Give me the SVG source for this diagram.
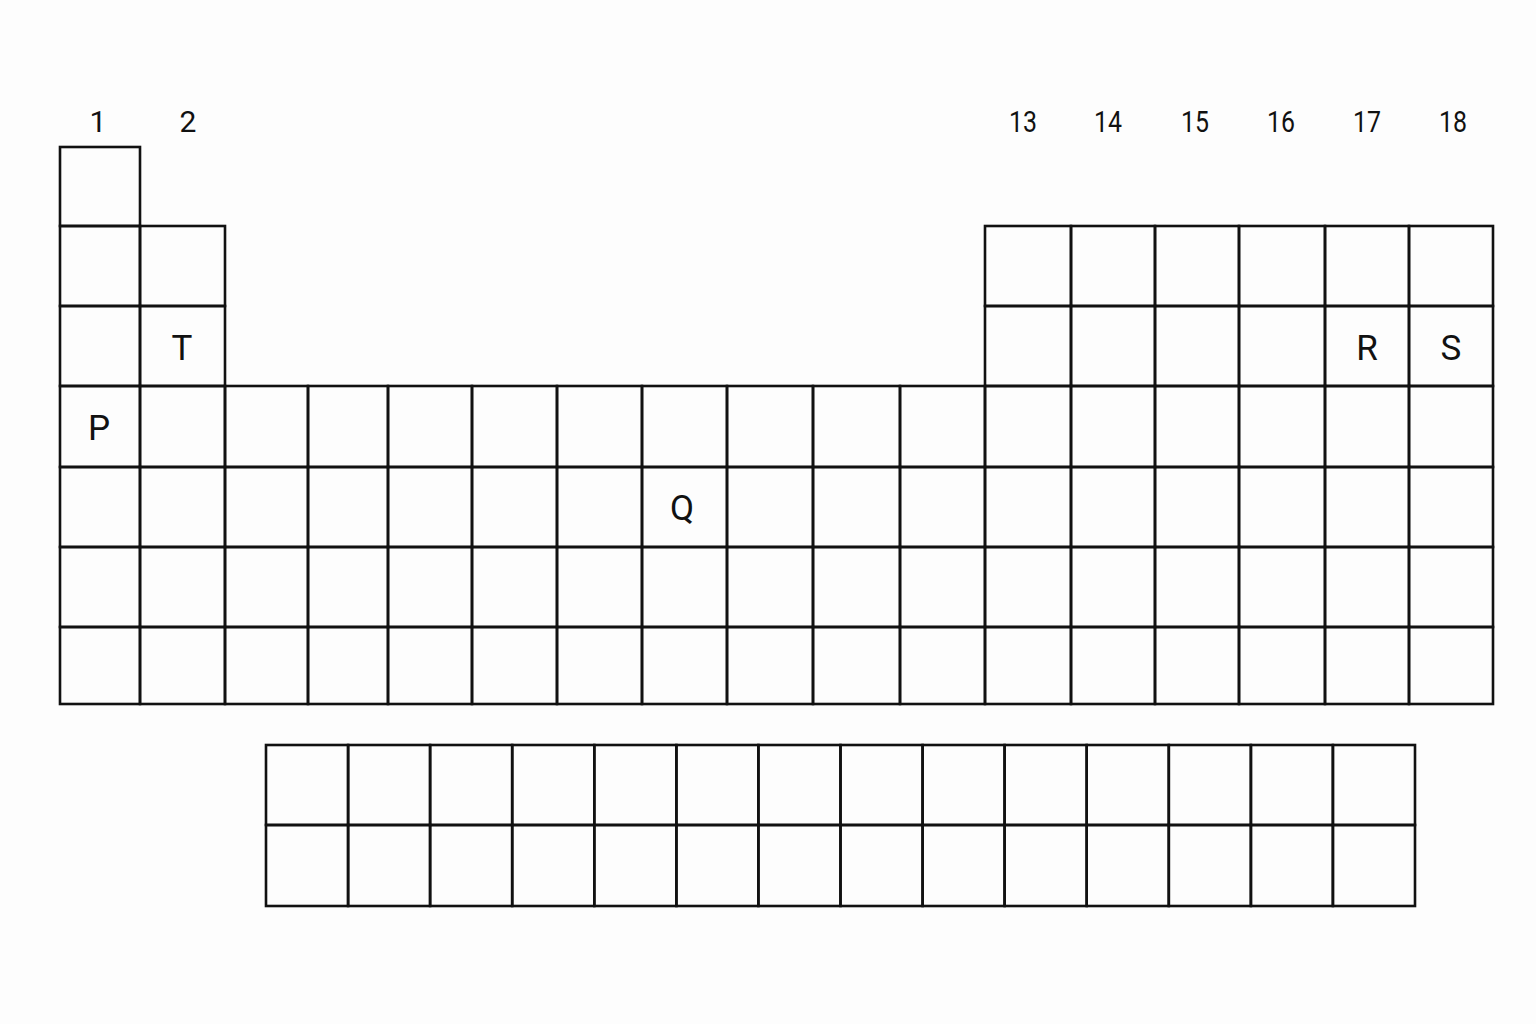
<svg xmlns="http://www.w3.org/2000/svg" width="1536" height="1024" viewBox="0 0 1536 1024">
<style>
.c{fill:none;stroke:#111;stroke-width:2.6}
.g{font-family:Roboto,"Noto Sans",sans-serif;font-size:30px;fill:#111;text-anchor:middle}
.e{font-family:Roboto,"Noto Sans",sans-serif;font-size:35px;fill:#111;text-anchor:middle}
</style>
<rect width="1536" height="1024" fill="#fdfdfd"/>
<g id="group-labels">
<text class="g" x="98" y="132">1</text>
<text class="g" x="188" y="132">2</text>
<text class="g" x="1023" y="132" textLength="28" lengthAdjust="spacingAndGlyphs">13</text>
<text class="g" x="1108" y="132" textLength="28" lengthAdjust="spacingAndGlyphs">14</text>
<text class="g" x="1195" y="132" textLength="28" lengthAdjust="spacingAndGlyphs">15</text>
<text class="g" x="1281" y="132" textLength="28" lengthAdjust="spacingAndGlyphs">16</text>
<text class="g" x="1367" y="132" textLength="28" lengthAdjust="spacingAndGlyphs">17</text>
<text class="g" x="1453" y="132" textLength="28" lengthAdjust="spacingAndGlyphs">18</text>
</g>
<g id="main-table">
<g id="period-1">
<rect class="c" x="60" y="147" width="80" height="79"/>
</g>
<g id="period-2">
<rect class="c" x="60" y="226" width="80" height="80"/>
<rect class="c" x="140" y="226" width="85" height="80"/>
<rect class="c" x="985" y="226" width="86" height="80"/>
<rect class="c" x="1071" y="226" width="84" height="80"/>
<rect class="c" x="1155" y="226" width="84" height="80"/>
<rect class="c" x="1239" y="226" width="86" height="80"/>
<rect class="c" x="1325" y="226" width="84" height="80"/>
<rect class="c" x="1409" y="226" width="84" height="80"/>
</g>
<g id="period-3">
<rect class="c" x="60" y="306" width="80" height="80"/>
<g id="cell-T"><rect class="c" x="140" y="306" width="85" height="80"/><text class="e" x="182" y="360">T</text></g>
<rect class="c" x="985" y="306" width="86" height="80"/>
<rect class="c" x="1071" y="306" width="84" height="80"/>
<rect class="c" x="1155" y="306" width="84" height="80"/>
<rect class="c" x="1239" y="306" width="86" height="80"/>
<g id="cell-R"><rect class="c" x="1325" y="306" width="84" height="80"/><text class="e" x="1367" y="360">R</text></g>
<g id="cell-S"><rect class="c" x="1409" y="306" width="84" height="80"/><text class="e" x="1451" y="360">S</text></g>
</g>
<g id="period-4">
<g id="cell-P"><rect class="c" x="60" y="386" width="80" height="81"/><text class="e" x="99" y="440">P</text></g>
<rect class="c" x="140" y="386" width="85" height="81"/>
<rect class="c" x="225" y="386" width="83" height="81"/>
<rect class="c" x="308" y="386" width="80" height="81"/>
<rect class="c" x="388" y="386" width="84" height="81"/>
<rect class="c" x="472" y="386" width="85" height="81"/>
<rect class="c" x="557" y="386" width="85" height="81"/>
<rect class="c" x="642" y="386" width="85" height="81"/>
<rect class="c" x="727" y="386" width="86" height="81"/>
<rect class="c" x="813" y="386" width="87" height="81"/>
<rect class="c" x="900" y="386" width="85" height="81"/>
<rect class="c" x="985" y="386" width="86" height="81"/>
<rect class="c" x="1071" y="386" width="84" height="81"/>
<rect class="c" x="1155" y="386" width="84" height="81"/>
<rect class="c" x="1239" y="386" width="86" height="81"/>
<rect class="c" x="1325" y="386" width="84" height="81"/>
<rect class="c" x="1409" y="386" width="84" height="81"/>
</g>
<g id="period-5">
<rect class="c" x="60" y="467" width="80" height="80"/>
<rect class="c" x="140" y="467" width="85" height="80"/>
<rect class="c" x="225" y="467" width="83" height="80"/>
<rect class="c" x="308" y="467" width="80" height="80"/>
<rect class="c" x="388" y="467" width="84" height="80"/>
<rect class="c" x="472" y="467" width="85" height="80"/>
<rect class="c" x="557" y="467" width="85" height="80"/>
<g id="cell-Q"><rect class="c" x="642" y="467" width="85" height="80"/><text class="e" x="682" y="520">Q</text></g>
<rect class="c" x="727" y="467" width="86" height="80"/>
<rect class="c" x="813" y="467" width="87" height="80"/>
<rect class="c" x="900" y="467" width="85" height="80"/>
<rect class="c" x="985" y="467" width="86" height="80"/>
<rect class="c" x="1071" y="467" width="84" height="80"/>
<rect class="c" x="1155" y="467" width="84" height="80"/>
<rect class="c" x="1239" y="467" width="86" height="80"/>
<rect class="c" x="1325" y="467" width="84" height="80"/>
<rect class="c" x="1409" y="467" width="84" height="80"/>
</g>
<g id="period-6">
<rect class="c" x="60" y="547" width="80" height="80"/>
<rect class="c" x="140" y="547" width="85" height="80"/>
<rect class="c" x="225" y="547" width="83" height="80"/>
<rect class="c" x="308" y="547" width="80" height="80"/>
<rect class="c" x="388" y="547" width="84" height="80"/>
<rect class="c" x="472" y="547" width="85" height="80"/>
<rect class="c" x="557" y="547" width="85" height="80"/>
<rect class="c" x="642" y="547" width="85" height="80"/>
<rect class="c" x="727" y="547" width="86" height="80"/>
<rect class="c" x="813" y="547" width="87" height="80"/>
<rect class="c" x="900" y="547" width="85" height="80"/>
<rect class="c" x="985" y="547" width="86" height="80"/>
<rect class="c" x="1071" y="547" width="84" height="80"/>
<rect class="c" x="1155" y="547" width="84" height="80"/>
<rect class="c" x="1239" y="547" width="86" height="80"/>
<rect class="c" x="1325" y="547" width="84" height="80"/>
<rect class="c" x="1409" y="547" width="84" height="80"/>
</g>
<g id="period-7">
<rect class="c" x="60" y="627" width="80" height="77"/>
<rect class="c" x="140" y="627" width="85" height="77"/>
<rect class="c" x="225" y="627" width="83" height="77"/>
<rect class="c" x="308" y="627" width="80" height="77"/>
<rect class="c" x="388" y="627" width="84" height="77"/>
<rect class="c" x="472" y="627" width="85" height="77"/>
<rect class="c" x="557" y="627" width="85" height="77"/>
<rect class="c" x="642" y="627" width="85" height="77"/>
<rect class="c" x="727" y="627" width="86" height="77"/>
<rect class="c" x="813" y="627" width="87" height="77"/>
<rect class="c" x="900" y="627" width="85" height="77"/>
<rect class="c" x="985" y="627" width="86" height="77"/>
<rect class="c" x="1071" y="627" width="84" height="77"/>
<rect class="c" x="1155" y="627" width="84" height="77"/>
<rect class="c" x="1239" y="627" width="86" height="77"/>
<rect class="c" x="1325" y="627" width="84" height="77"/>
<rect class="c" x="1409" y="627" width="84" height="77"/>
</g>
</g>
<g id="f-block">
<g id="f-row-1">
<rect class="c" x="266" y="745" width="82.1" height="80"/>
<rect class="c" x="348.1" y="745" width="82" height="80"/>
<rect class="c" x="430.1" y="745" width="82.1" height="80"/>
<rect class="c" x="512.2" y="745" width="82.1" height="80"/>
<rect class="c" x="594.3" y="745" width="82.1" height="80"/>
<rect class="c" x="676.4" y="745" width="82" height="80"/>
<rect class="c" x="758.4" y="745" width="82.1" height="80"/>
<rect class="c" x="840.5" y="745" width="82.1" height="80"/>
<rect class="c" x="922.6" y="745" width="82" height="80"/>
<rect class="c" x="1004.6" y="745" width="82.1" height="80"/>
<rect class="c" x="1086.7" y="745" width="82.1" height="80"/>
<rect class="c" x="1168.8" y="745" width="82.1" height="80"/>
<rect class="c" x="1250.9" y="745" width="82" height="80"/>
<rect class="c" x="1332.9" y="745" width="82.1" height="80"/>
</g>
<g id="f-row-2">
<rect class="c" x="266" y="825" width="82.1" height="81"/>
<rect class="c" x="348.1" y="825" width="82" height="81"/>
<rect class="c" x="430.1" y="825" width="82.1" height="81"/>
<rect class="c" x="512.2" y="825" width="82.1" height="81"/>
<rect class="c" x="594.3" y="825" width="82.1" height="81"/>
<rect class="c" x="676.4" y="825" width="82" height="81"/>
<rect class="c" x="758.4" y="825" width="82.1" height="81"/>
<rect class="c" x="840.5" y="825" width="82.1" height="81"/>
<rect class="c" x="922.6" y="825" width="82" height="81"/>
<rect class="c" x="1004.6" y="825" width="82.1" height="81"/>
<rect class="c" x="1086.7" y="825" width="82.1" height="81"/>
<rect class="c" x="1168.8" y="825" width="82.1" height="81"/>
<rect class="c" x="1250.9" y="825" width="82" height="81"/>
<rect class="c" x="1332.9" y="825" width="82.1" height="81"/>
</g>
</g>
<g id="connectors"></g>
</svg>
